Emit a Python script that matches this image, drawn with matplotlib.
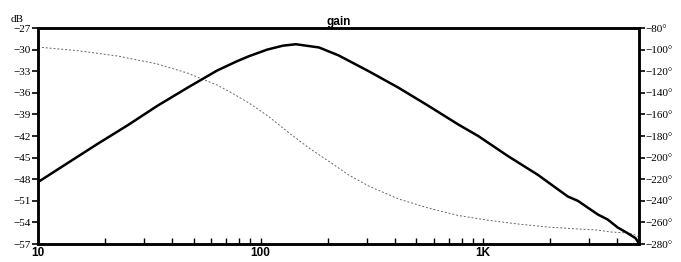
import matplotlib
matplotlib.use("Agg")
import matplotlib.pyplot as plt
from matplotlib.ticker import FixedLocator, LogLocator, NullFormatter

# values (frequency in Hz)
gain_freq = [10, 13.6, 18.5, 25.3, 34.4, 46.9, 63.8, 78.5, 88.9, 107, 126,
             144, 183, 224, 306, 417, 567, 773, 950, 1294, 1762, 2399, 2661,
             3273, 3625, 4018, 4456, 4840, 5000]
gain_db = [-48.4, -45.75, -43.1, -40.5, -37.8, -35.3, -32.9, -31.6, -30.9,
           -30.0, -29.45, -29.25, -29.7, -30.8, -33.0, -35.3, -37.8, -40.4,
           -42.0, -44.8, -47.4, -50.4, -51.0, -52.9, -53.6, -54.7, -55.5,
           -56.2, -56.9]

phase_freq = [10, 15.1, 22.8, 34.4, 46.9, 63.8, 72.3, 78.5, 88.9, 108, 134,
              165, 203, 249, 306, 417, 567, 773, 1052, 1435, 1954, 2661, 3273,
              3741, 4456, 4840, 5000]
phase_deg = [-97.6, -101.0, -105.9, -113.3, -121.7, -132.8, -138.8, -143.0,
             -149.6, -161.5, -177.0, -191.1, -203.6, -216.1, -226.3, -238.3,
             -246.7, -253.6, -258.0, -261.5, -264.3, -266.1, -267.1, -268.9,
             -269.8, -271.7, -273.5]

db_ticks = [-57, -54, -51, -48, -45, -42, -39, -36, -33, -30, -27]
deg_ticks = [-280, -260, -240, -220, -200, -180, -160, -140, -120, -100, -80]
x_ticks = [10, 100, 1000]
x_labels = ["10", "100", "1K"]

fig = plt.figure(figsize=(6.81, 2.62), dpi=100)
ax = fig.add_axes([0.0558, 0.0687, 0.8822, 0.8243])
ax2 = ax.twinx()

ax.plot(gain_freq, gain_db, color="black", lw=1.8, zorder=3,
        solid_joinstyle="round")
ax2.plot(phase_freq, phase_deg, color="#666666", lw=0.7, ls=(0, (2, 2)))
ax.set_zorder(ax2.get_zorder() + 1)
ax.patch.set_visible(False)

ax.set_xscale("log")
ax.set_xlim(10, 5000)
ax.set_ylim(-57, -27)
ax2.set_ylim(-280, -80)

ax.xaxis.set_major_locator(FixedLocator(x_ticks))
ax.set_xticklabels(x_labels, fontweight="bold", fontsize=8.5,
                   family="Liberation Sans")
ax.xaxis.set_minor_locator(LogLocator(base=10, subs=range(2, 10)))
ax.xaxis.set_minor_formatter(NullFormatter())
ax.tick_params(axis="x", which="both", direction="in", length=4, width=1,
               pad=2)

ax.set_yticks(db_ticks)
ax.set_yticklabels([str(v).replace("-", "\u2212") for v in db_ticks],
                   family="Liberation Serif", fontsize=8)
ax.tick_params(axis="y", direction="out", length=4, width=1.2, pad=1)

ax2.set_yticks(deg_ticks)
ax2.set_yticklabels([str(v).replace("-", "\u2212") + "\u00b0" for v in deg_ticks],
                    family="Liberation Serif", fontsize=8)
ax2.tick_params(axis="y", direction="out", length=4, width=1.2, pad=1)

for a in (ax, ax2):
    for s in a.spines.values():
        s.set_linewidth(1.8)

ax.text(-0.045, 1.02, "dB", transform=ax.transAxes, ha="left", va="bottom",
        family="Liberation Serif", fontsize=8)
ax.set_title("gain", fontsize=8.5, fontweight="bold", family="Liberation Sans",
             pad=2)

fig.savefig("out.png", dpi=100)
